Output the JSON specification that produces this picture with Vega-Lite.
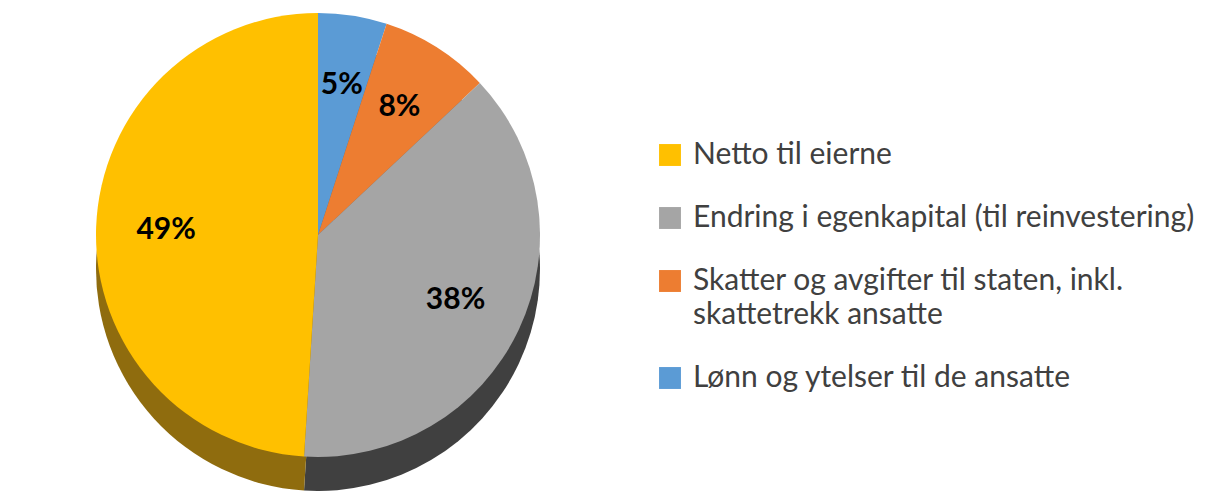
{
  "$schema": "https://vega.github.io/schema/vega-lite/v6.json",
  "width": 636,
  "height": 470,
  "padding": 0,
  "background": "white",
  "data": {
    "values": [
      {"kategori": "Lønn og ytelser til de ansatte", "andel": 5, "rekkefolge": 1, "etikett": "5%"},
      {"kategori": "Skatter og avgifter til staten, inkl. skattetrekk ansatte", "andel": 8, "rekkefolge": 2, "etikett": "8%"},
      {"kategori": "Endring i egenkapital (til reinvestering)", "andel": 38, "rekkefolge": 3, "etikett": "38%"},
      {"kategori": "Netto til eierne", "andel": 49, "rekkefolge": 4, "etikett": "49%"}
    ]
  },
  "encoding": {
    "theta": {"field": "andel", "type": "quantitative", "stack": true},
    "order": {"field": "rekkefolge", "type": "ordinal"}
  },
  "layer": [
    {
      "mark": {"type": "arc", "outerRadius": 222, "yOffset": 34},
      "encoding": {
        "color": {
          "field": "kategori",
          "type": "nominal",
          "scale": {
            "domain": ["Netto til eierne", "Endring i egenkapital (til reinvestering)", "Skatter og avgifter til staten, inkl. skattetrekk ansatte", "Lønn og ytelser til de ansatte"],
            "range": ["#8f6c0e", "#404040", "#a0521c", "#3c6e9a"]
          },
          "legend": null
        }
      }
    },
    {
      "mark": {"type": "arc", "outerRadius": 222},
      "encoding": {
        "color": {
          "field": "kategori",
          "type": "nominal",
          "scale": {
            "domain": ["Netto til eierne", "Endring i egenkapital (til reinvestering)", "Skatter og avgifter til staten, inkl. skattetrekk ansatte", "Lønn og ytelser til de ansatte"],
            "range": ["#FFC000", "#A5A5A5", "#ED7D31", "#5B9BD5"]
          },
          "legend": {
            "title": null,
            "orient": "none",
            "legendX": 655,
            "legendY": 140,
            "symbolType": "square",
            "symbolSize": 480,
            "symbolStrokeWidth": 0,
            "labelFont": "Lato",
            "labelFontSize": 30,
            "labelColor": "#404040",
            "labelLimit": 600,
            "labelOffset": 8,
            "rowPadding": 33,
            "labelExpr": "indexof(datum.label, 'inkl.') > 0 ? ['Skatter og avgifter til staten, inkl.', 'skattetrekk ansatte'] : datum.label",
            "encode": {"labels": {"update": {"lineHeight": {"value": 34}}}}
          }
        }
      }
    },
    {
      "mark": {"type": "text", "radius": 152, "font": "Lato", "fontSize": 30, "fontWeight": "bold", "color": "black"},
      "encoding": {"text": {"field": "etikett"}}
    }
  ],
  "resolve": {"scale": {"color": "independent"}}
}
